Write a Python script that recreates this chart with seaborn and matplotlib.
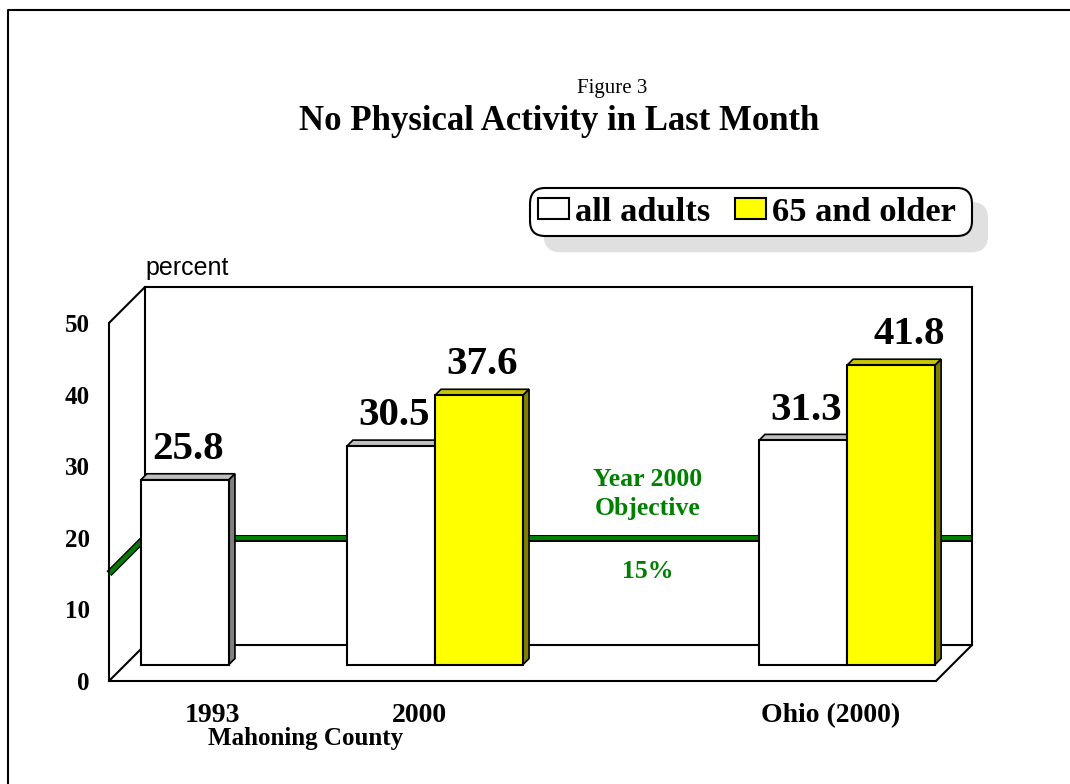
import numpy as np
import pandas as pd
import matplotlib
matplotlib.use("Agg")
import matplotlib.pyplot as plt
from matplotlib.lines import Line2D
from matplotlib.patches import Polygon
from matplotlib.transforms import ScaledTranslation
import seaborn as sns

# data
categories = ["1993", "2000", " ", "Ohio (2000)"]
all_adults = [25.8, 30.5, np.nan, 31.3]
older = [np.nan, 37.6, np.nan, 41.8]
series_names = ["all adults", "65 and older"]
y_ticks = [0, 10, 20, 30, 40, 50]
objective = 15

W, H = 1070, 784
XLIM = (-0.49, 3.524)
YLIM = (0, 50)
SERIF = "Liberation Serif"
GREEN = "#008000"
LW = 1.5


def px_axes(left, right, top, bottom):
    return fig.add_axes([left / W, 1 - bottom / H, (right - left) / W, (bottom - top) / H])


sns.set_theme(style="white", rc={"font.family": SERIF, "text.color": "black", "xtick.color": "black",
                                 "ytick.color": "black", "axes.labelcolor": "black"})
fig = plt.figure(figsize=(W / 100, H / 100), dpi=100, facecolor="white")

# back wall, front edge and the plane the bars stand on
ax_back = px_axes(145, 972, 287, 645)
ax_front = px_axes(109, 936, 323, 681)
ax_bars = px_axes(128, 955, 306.5, 664.5)
for ax, z in [(ax_back, 1), (ax_front, 2), (ax_bars, 3)]:
    ax.set_xlim(XLIM)
    ax.set_ylim(YLIM)
    ax.set_zorder(z)
    ax.patch.set_visible(False)
    for s in ax.spines.values():
        s.set_linewidth(LW)
        s.set_color("black")

ax_back.set_xticks([])
ax_back.set_yticks([])
ax_back.axhline(objective, color="black", lw=5, solid_capstyle="butt")
ax_back.axhline(objective, color=GREEN, lw=3, solid_capstyle="butt")

ax_front.spines["top"].set_visible(False)
ax_front.spines["right"].set_visible(False)
ax_front.set_xticks(range(len(categories)), categories)
ax_front.set_yticks(y_ticks)
ax_front.tick_params(axis="y", length=0, pad=14, labelsize=18)
ax_front.tick_params(axis="x", length=0, pad=16, labelsize=20)
for lab in ax_front.get_xticklabels():
    lab.set_fontweight("bold")
    lab.set_transform(lab.get_transform() + ScaledTranslation(0.03, 0, fig.dpi_scale_trans))
for lab in ax_front.get_yticklabels():
    lab.set_fontweight("bold")


def link(x, y, **kw):
    a = ax_front.transData.transform((x, y))
    b = ax_back.transData.transform((x, y))
    fig.add_artist(Line2D([a[0] / W, b[0] / W], [a[1] / H, b[1] / H], **kw))


link(XLIM[0], objective, color="black", lw=5, zorder=1.5, solid_capstyle="butt")
link(XLIM[0], objective, color=GREEN, lw=3, zorder=1.6, solid_capstyle="butt")
for x, y in [(XLIM[0], YLIM[1]), (XLIM[0], YLIM[0]), (XLIM[1], YLIM[0])]:
    link(x, y, color="black", lw=LW, zorder=1.7)

df = pd.DataFrame({
    "place": categories * 2,
    "group": [series_names[0]] * 4 + [series_names[1]] * 4,
    "percent": all_adults + older,
})
sns.barplot(data=df, x="place", y="percent", hue="group", order=categories, hue_order=series_names,
            palette=["white", "yellow"], edgecolor="black", linewidth=LW, width=0.855, gap=0,
            saturation=1, ax=ax_bars)
ax_bars.set_xlim(XLIM)
ax_bars.set_ylim(YLIM)
ax_bars.axis("off")

# fake 3d faces on each bar
depth = 6
shades = [("#c0c0c0", "#808080"), ("#c8c800", "#808000")]
for cont, (top_col, side_col) in zip(ax_bars.containers, shades):
    for bar in cont:
        bar.set_clip_on(False)
        if not np.isfinite(bar.get_height()) or bar.get_height() == 0:
            continue
        (x0, y0), (x1, y1) = ax_bars.transData.transform(
            [(bar.get_x(), 0), (bar.get_x() + bar.get_width(), bar.get_height())])
        top = [(x0, y1), (x0 + depth, y1 + depth), (x1 + depth, y1 + depth), (x1, y1)]
        side = [(x1, y0), (x1 + depth, y0 + depth), (x1 + depth, y1 + depth), (x1, y1)]
        for pts, col in [(top, top_col), (side, side_col)]:
            ax_bars.add_patch(Polygon(pts, closed=True, transform=None, facecolor=col, edgecolor="black",
                                      linewidth=1.2, zorder=0.5))
    labels = ax_bars.bar_label(cont, fmt="%.1f", padding=15, fontsize=29.5, fontweight="bold")
    for t in labels:
        t.set_verticalalignment("baseline")
        # the 41.8 sits further right than the others in the original
        t.xyann = (13 if t.get_text() == "41.8" else 2, 15)

sns.move_legend(ax_bars, "upper right", bbox_to_anchor=(972 / W, 1 - 188 / H),
                bbox_transform=fig.transFigure, ncols=2, title=None, frameon=True, fancybox=True,
                prop={"family": SERIF, "weight": "bold", "size": 24.8},
                borderaxespad=0, borderpad=0.25, handlelength=0.9, handleheight=0.53,
                handletextpad=0.17, columnspacing=0.7, framealpha=1, edgecolor="black",
                shadow={"ox": 10.8, "oy": -10.8, "color": "#e0e0e0", "alpha": 1})
leg = ax_bars.get_legend()
leg.get_frame().set_boxstyle("round", pad=0, rounding_size=0.45)
leg.get_frame().set_linewidth(LW)
leg.get_texts()[1].set_text(series_names[1] + " ")
for h in leg.legend_handles:
    h.set_edgecolor("black")
    h.set_linewidth(LW)

fig.text(612 / W, 1 - 88 / H, "Figure 3", ha="center", va="center", fontsize=15, family=SERIF)
fig.text(559 / W, 1 - 121 / H, "No Physical Activity in Last Month", ha="center", va="center",
         fontsize=25, fontweight="bold", family=SERIF)
fig.text(145 / W, 1 - 268 / H, "percent", ha="left", va="center", fontsize=18, family="Liberation Sans")
for txt, y in [("Year 2000", 479), ("Objective", 509), ("15%", 572)]:
    fig.text(648 / W, 1 - y / H, txt, ha="center", va="center", fontsize=18.5, fontweight="bold",
             color=GREEN, family=SERIF, zorder=5)
fig.text(306 / W, 1 - 738 / H, "Mahoning County", ha="center", va="center", fontsize=18,
         fontweight="bold", family=SERIF, zorder=5)

# outer frame, only left and top reach the picture
fig.add_artist(Line2D([8 / W, 8 / W, 1], [0, 1 - 10 / H, 1 - 10 / H], color="black", lw=LW))

fig.savefig("out.png", dpi=100)
